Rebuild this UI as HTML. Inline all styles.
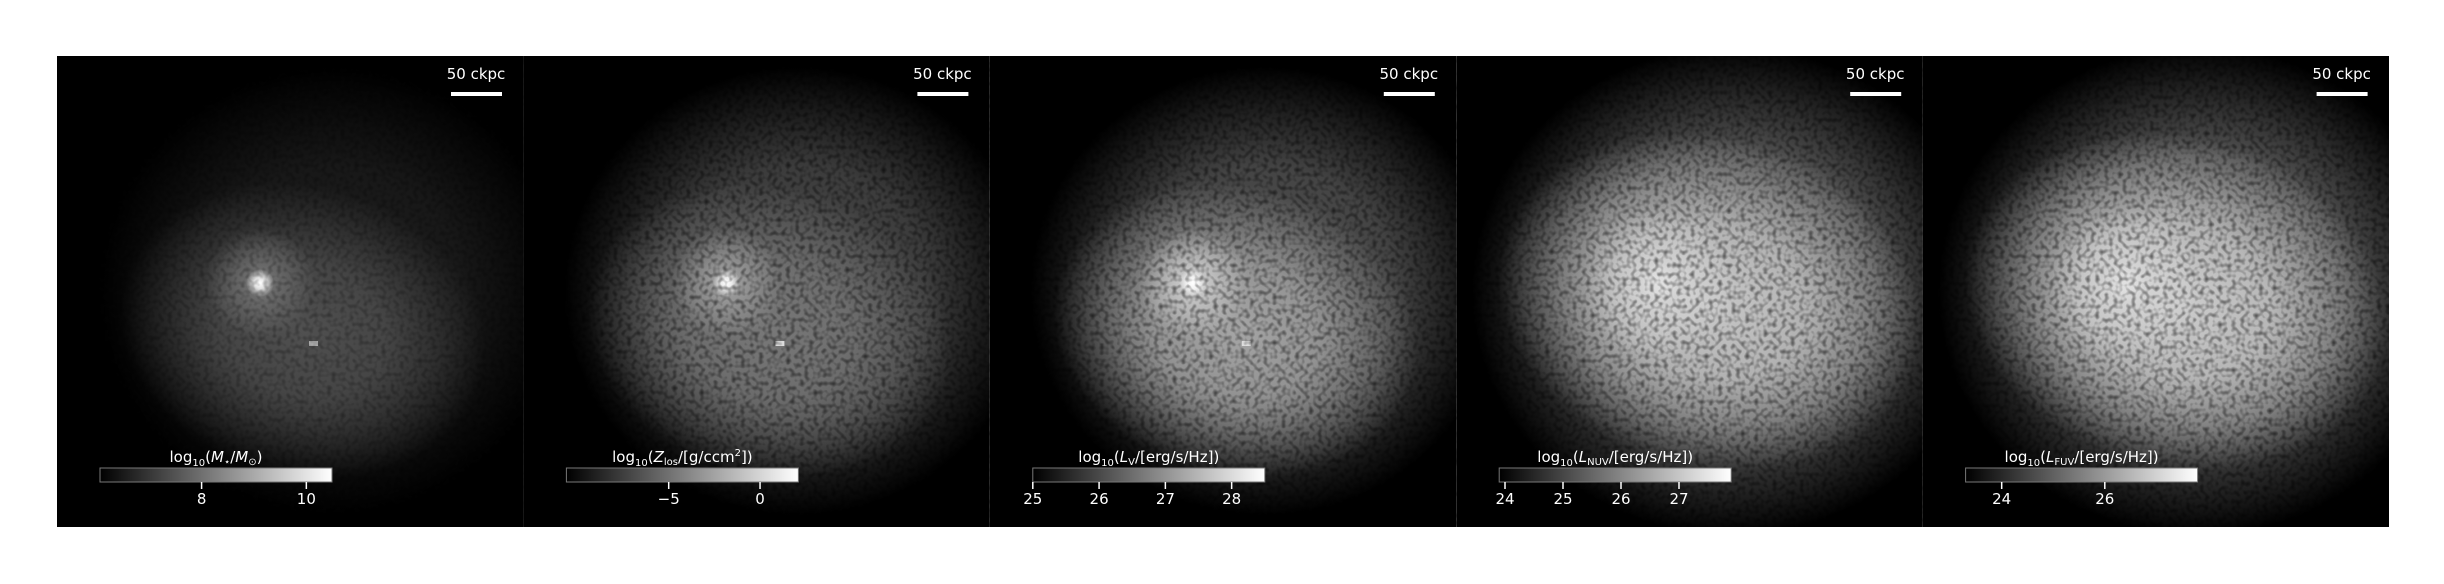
<!DOCTYPE html>
<html><head><meta charset="utf-8">
<style>
html,body{margin:0;padding:0;background:#fff;}
svg{display:block;}
text{font-family:"DejaVu Sans","Liberation Sans",sans-serif;fill:#fff;}
</style></head>
<body>
<svg id="fig" width="2444" height="584" viewBox="0 0 2444 584" xmlns="http://www.w3.org/2000/svg">
<defs id="defs"></defs>
</svg>
<script>
const panelNames = ["stellar-mass","metal-column","lum-v","lum-nuv","lum-fuv"];
const cbLabels = [
  'log<tspan font-size="10" dy="4">10</tspan><tspan dy="-4">(</tspan><tspan font-style="italic">M</tspan><tspan font-size="10" dy="3">⋆</tspan><tspan dy="-3">/</tspan><tspan font-style="italic">M</tspan><tspan font-size="10" dy="3">⊙</tspan><tspan dy="-3">)</tspan>',
  'log<tspan font-size="10" dy="4">10</tspan><tspan dy="-4">(</tspan><tspan font-style="italic">Z</tspan><tspan font-size="10" dy="3">los</tspan><tspan dy="-3">/[g/ccm</tspan><tspan font-size="10" dy="-6">2</tspan><tspan dy="6">])</tspan>',
  'log<tspan font-size="10" dy="4">10</tspan><tspan dy="-4">(</tspan><tspan font-style="italic">L</tspan><tspan font-size="10" dy="3">V</tspan><tspan dy="-3">/[erg/s/Hz])</tspan>',
  'log<tspan font-size="10" dy="4">10</tspan><tspan dy="-4">(</tspan><tspan font-style="italic">L</tspan><tspan font-size="10" dy="3">NUV</tspan><tspan dy="-3">/[erg/s/Hz])</tspan>',
  'log<tspan font-size="10" dy="4">10</tspan><tspan dy="-4">(</tspan><tspan font-style="italic">L</tspan><tspan font-size="10" dy="3">FUV</tspan><tspan dy="-3">/[erg/s/Hz])</tspan>'
];
const cbMin = [6.06, -10.6, 25.0, 23.9, 23.3];
const cbMax = [10.49, 2.1, 28.5, 27.9, 27.8];
const cbTicks = [[8,10],[-5,0],[25,26,27,28],[24,25,26,27],[24,26]];
const cbTickLabels = [["8","10"],["−5","0"],["25","26","27","28"],["24","25","26","27"],["24","26"]];
// surface brightness levels (0-255 gray) of halo, disc, core glow, core peak
const haloLevel = [30, 75, 85, 105, 105];
const discLevel = [80, 120, 165, 200, 205];
const glowLevel = [115, 160, 205, 215, 215];
const coreLevel = [255, 255, 255, 225, 225];

const svg = document.getElementById('fig');
const defs = document.getElementById('defs');
const NS = "http://www.w3.org/2000/svg";
const X0 = 57, Y0 = 56, PW = 466.4, PH = 471;
function mk(tag, attrs, parent){
  const e = document.createElementNS(NS, tag);
  for (const k in attrs) e.setAttribute(k, attrs[k]);
  (parent||svg).appendChild(e); return e;
}
function grad(id, level, inner){
  const g = mk('radialGradient', {id:id}, defs);
  const c = `rgb(${level},${level},${level})`;
  mk('stop', {offset:'0', 'stop-color':c, 'stop-opacity':'1'}, g);
  mk('stop', {offset: inner, 'stop-color':c, 'stop-opacity':'0.8'}, g);
  mk('stop', {offset:'1', 'stop-color':c, 'stop-opacity':'0'}, g);
}
const cbg = mk('linearGradient', {id:'cbgrad', x1:'0', x2:'1', y1:'0', y2:'0'}, defs);
mk('stop', {offset:'0', 'stop-color':'#000'}, cbg);
mk('stop', {offset:'1', 'stop-color':'#fff'}, cbg);
const flt = mk('filter', {id:'speckle', x:'0', y:'0', width:'1', height:'1'}, defs);
mk('feTurbulence', {type:'fractalNoise', baseFrequency:'0.22', numOctaves:'1', seed:'3', result:'n'}, flt);
mk('feColorMatrix', {type:'matrix', values:'0 0 0 0 0  0 0 0 0 0  0 0 0 0 0  0 0 0 -2.2 1.25'}, flt);

const isBright = [false,false,false,true,true];
panelNames.forEach((name, i) => {
  const px = X0 + i*PW;
  const cp = mk('clipPath', {id:'clip'+i}, defs);
  mk('rect', {x:px, y:Y0, width:PW, height:PH}, cp);
  const g = mk('g', {'clip-path':`url(#clip${i})`});
  
  
  mk('rect', {x:px, y:Y0, width:PW+1, height:PH, fill:'#000'}, g);
  grad('h'+i, haloLevel[i], '0.55');
  grad('d'+i, discLevel[i], '0.45');
  grad('gl'+i, glowLevel[i], '0.3');
  grad('c'+i, coreLevel[i], '0.4');
  const halo = mk('ellipse', {cx:px+275, cy:Y0+235, rx: isBright[i]?260:235, ry: isBright[i]?245:225, fill:`url(#h${i})`}, g);
  
  
  const disc = mk('ellipse', {cx:px+250, cy:Y0+ (isBright[i]?245:275), rx: isBright[i]?215:185, ry: isBright[i]?165:145, fill:`url(#d${i})`, transform:`rotate(15 ${px+250} ${Y0+260})`}, g);
  
  
  const glow = mk('circle', {cx:px+203, cy:Y0+227, r: isBright[i]?75:55, fill:`url(#gl${i})`}, g);
  
  
  const core = mk('circle', {cx:px+203, cy:Y0+227, r: isBright[i]?20:14, fill:`url(#c${i})`}, g);
  
  
  if (!isBright[i]) {
    const sat = mk('rect', {x:px+252, y:Y0+285, width:9, height:5, fill: i==0?'#aaa':'#ddd'}, g);
    
    
  }
  const sp = mk('rect', {x:px, y:Y0, width:PW, height:PH, filter:'url(#speckle)', opacity: i==0?0.35:0.6}, g);
  
  

  const sb = mk('rect', {x:px+394, y:Y0+36, width:51, height:4, fill:'#fff'});
  
  
  const st = mk('text', {x:px+419, y:Y0+23, 'font-size':'15', 'text-anchor':'middle'});
  st.textContent = '50 ckpc';
  
  

  const cbx = px + 43, cbw = 232, cby = 468, cbh = 14;
  const cb = mk('rect', {x:cbx, y:cby, width:cbw, height:cbh, fill:'url(#cbgrad)', stroke:'#777', 'stroke-width':'1'});
  
  
  const lab = mk('text', {x:cbx+cbw/2, y:cby-6, 'font-size':'15', 'text-anchor':'middle'});
  lab.innerHTML = cbLabels[i];
  
  
  const scale = v => cbx + (v - cbMin[i]) / (cbMax[i] - cbMin[i]) * cbw;
  cbTicks[i].forEach((v, k) => {
    const tx = scale(v);
    const tk = mk('line', {x1:tx, x2:tx, y1:cby+cbh, y2:cby+cbh+7, stroke:'#fff', 'stroke-width':'1.5'});
    
    
    const tl = mk('text', {x:tx, y:cby+cbh+22, 'font-size':'15', 'text-anchor':'middle'});
    tl.textContent = cbTickLabels[i][k];
    
    
  });
});
</script>
</body></html>
